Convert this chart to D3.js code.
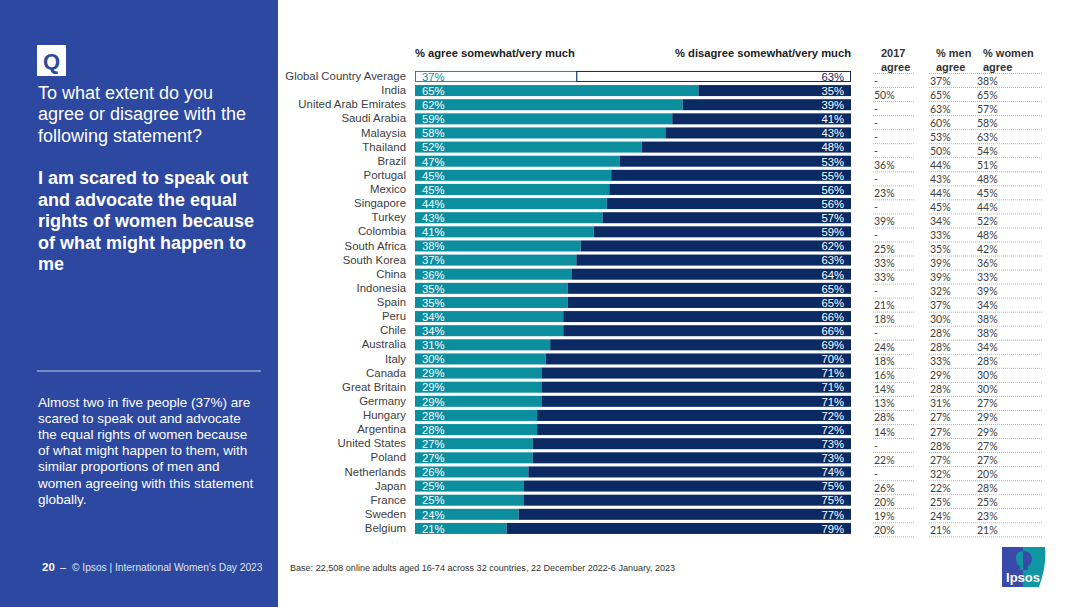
<!DOCTYPE html>
<html>
<head>
<meta charset="utf-8">
<script src="https://cdnjs.cloudflare.com/ajax/libs/d3/7.8.5/d3.min.js"></script>
<style>
  html, body { margin: 0; padding: 0; background: #fff; }
  svg { display: block; }
  text { font-family: "Liberation Sans", Arial, sans-serif; }
  .tbl { font-family: Lato, "Open Sans", sans-serif; font-size: 10.5px; fill: #404040; }
</style>
</head>
<body>
<svg id="chart" width="1080" height="607"></svg>
<script>
const countries = ['Global Country Average', 'India', 'United Arab Emirates', 'Saudi Arabia', 'Malaysia', 'Thailand', 'Brazil', 'Portugal', 'Mexico', 'Singapore', 'Turkey', 'Colombia', 'South Africa', 'South Korea', 'China', 'Indonesia', 'Spain', 'Peru', 'Chile', 'Australia', 'Italy', 'Canada', 'Great Britain', 'Germany', 'Hungary', 'Argentina', 'United States', 'Poland', 'Netherlands', 'Japan', 'France', 'Sweden', 'Belgium'];
const agree = [37, 65, 62, 59, 58, 52, 47, 45, 45, 44, 43, 41, 38, 37, 36, 35, 35, 34, 34, 31, 30, 29, 29, 29, 28, 28, 27, 27, 26, 25, 25, 24, 21];
const disagree = [63, 35, 39, 41, 43, 48, 53, 55, 56, 56, 57, 59, 62, 63, 64, 65, 65, 66, 66, 69, 70, 71, 71, 71, 72, 72, 73, 73, 74, 75, 75, 77, 79];
const agree2017 = ['-', '50%', '-', '-', '-', '-', '36%', '-', '23%', '-', '39%', '-', '25%', '33%', '33%', '-', '21%', '18%', '-', '24%', '18%', '16%', '14%', '13%', '28%', '14%', '-', '22%', '-', '26%', '20%', '19%', '20%'];
const men = [37, 65, 63, 60, 53, 50, 44, 43, 44, 45, 34, 33, 35, 39, 39, 32, 37, 30, 28, 28, 33, 29, 28, 31, 27, 27, 28, 27, 32, 22, 25, 24, 21];
const women = [38, 65, 57, 58, 63, 54, 51, 48, 45, 44, 52, 48, 42, 36, 33, 39, 34, 38, 38, 34, 28, 30, 30, 27, 29, 29, 27, 27, 20, 28, 25, 23, 21];

const questionLines = ['To what extent do you', 'agree or disagree with the', 'following statement?'];
const statementLines = ['I am scared to speak out', 'and advocate the equal', 'rights of women because', 'of what might happen to', 'me'];
const bodyLines = ['Almost two in five people (37%) are', 'scared to speak out and advocate', 'the equal rights of women because', 'of what might happen to them, with', 'similar proportions of men and', 'women agreeing with this statement', 'globally.'];

const teal = '#0b8f9f', navy = '#0b2a63', panel = '#2c48a0';
const svg = d3.select('#chart');

// left panel
svg.append('rect').attr('width', 278).attr('height', 607).attr('fill', panel);
svg.append('rect').attr('x', 37).attr('y', 45).attr('width', 29).attr('height', 31).attr('fill', '#fff');
svg.append('text').attr('x', 51.5).attr('y', 68.5).attr('text-anchor', 'middle')
    .attr('font-size', 22).attr('font-weight', 'bold').attr('fill', panel).text('Q');

function textBlock(lines, x, y0, step, size, weight) {
    svg.append('g').selectAll('text').data(lines).enter().append('text')
        .attr('x', x)
        .attr('y', (d, i) => y0 + i * step)
        .attr('font-size', size)
        .attr('font-weight', weight)
        .attr('fill', '#fff')
        .text(d => d);
}
textBlock(questionLines, 38, 99, 21.3, 18, 'normal');
textBlock(statementLines, 38, 184, 21.5, 18, 'bold');
textBlock(bodyLines, 38, 406.5, 16.2, 13.5, 'normal');
svg.append('line').attr('x1', 37).attr('x2', 261).attr('y1', 371).attr('y2', 371)
    .attr('stroke', '#c8d0e8').attr('stroke-width', 1);

svg.append('text').attr('x', 42).attr('y', 571).attr('font-size', 11.5).attr('font-weight', 'bold').attr('fill', '#fff').text('20');
svg.append('text').attr('x', 60).attr('y', 571).attr('font-size', 11).attr('fill', '#fff').text('–');
svg.append('text').attr('x', 72).attr('y', 571).attr('font-size', 10.2).attr('fill', '#dfe4f3').text('© Ipsos | International Women’s Day 2023');
svg.append('text').attr('x', 290).attr('y', 571).attr('font-size', 9.05).attr('fill', '#333').text('Base: 22,508 online adults aged 16-74 across 32 countries, 22 December 2022-6 January, 2023');

// stacked bars, expanded because rounded labels can add up to 101
const rows = countries.map((c, i) => ({country: c, agree: agree[i], disagree: disagree[i]}));
const series = d3.stack().keys(['agree', 'disagree']).offset(d3.stackOffsetExpand)(rows);

const x = d3.scaleLinear().domain([0, 1]).range([415, 851]);
const y = d3.scaleBand().domain(countries).range([69.4, 535.5]).paddingInner(0.22).paddingOuter(0.11);

const yAxis = d3.axisLeft(y).tickSize(0).tickPadding(0);
svg.append('g').attr('transform', 'translate(406,0)').call(yAxis)
    .call(g => g.select('.domain').remove())
    .call(g => g.selectAll('text').attr('font-size', 11.4).attr('fill', '#404040').attr('font-family', '"Liberation Sans", Arial, sans-serif'));

const isGlobal = p => p.d.data.country === countries[0];
const barGroups = svg.selectAll('.series').data(series).enter().append('g').attr('class', 'series');
barGroups.selectAll('rect').data(s => s.map(d => ({key: s.key, d: d}))).enter().append('rect')
    .attr('x', p => x(p.d[0]) + (isGlobal(p) ? 0.5 : 0))
    .attr('y', p => y(p.d.data.country) + (isGlobal(p) ? 0.5 : 0))
    // the outlined top bar shares one divider line, so only the last segment is pulled in
    .attr('width', p => x(p.d[1]) - x(p.d[0]) - (isGlobal(p) && p.key === 'disagree' ? 1 : 0))
    .attr('height', p => y.bandwidth() - (isGlobal(p) ? 1 : 0))
    .attr('fill', p => isGlobal(p) ? '#fff' : (p.key === 'agree' ? teal : navy))
    .attr('stroke', p => isGlobal(p) ? (p.key === 'agree' ? teal : navy) : 'none');

svg.append('g').selectAll('text').data(rows).enter().append('text')
    .attr('x', x(0) + 7)
    .attr('y', d => y(d.country) + y.bandwidth() / 2 + 4.3)
    .attr('font-size', 11.3)
    .attr('fill', (d, i) => i === 0 ? teal : '#fff')
    .text(d => d.agree + '%');
svg.append('g').selectAll('text').data(rows).enter().append('text')
    .attr('x', x(1) - 7)
    .attr('y', d => y(d.country) + y.bandwidth() / 2 + 4.3)
    .attr('text-anchor', 'end')
    .attr('font-size', 11.3)
    .attr('fill', (d, i) => i === 0 ? navy : '#fff')
    .text(d => d.disagree + '%');

svg.append('text').attr('x', 415).attr('y', 57).attr('font-size', 11.2).attr('font-weight', 'bold').attr('fill', '#222').text('% agree somewhat/very much');
svg.append('text').attr('x', 851).attr('y', 57).attr('text-anchor', 'end').attr('font-size', 11.2).attr('font-weight', 'bold').attr('fill', '#222').text('% disagree somewhat/very much');

// table on the right
const rowY = d3.scaleBand().domain(countries).range([73.5, 536.8]);
const ruleYs = [rowY.range()[0]].concat(countries.map(c => rowY(c) + rowY.bandwidth()));
const rules = svg.append('g').attr('stroke', '#9a9a9a').attr('stroke-width', 0.7).attr('stroke-dasharray', '1 1');
[[873, 915], [929, 1043]].forEach(span => {
    rules.append('g').selectAll('line').data(ruleYs).enter().append('line')
        .attr('x1', span[0]).attr('x2', span[1])
        .attr('y1', d => d).attr('y2', d => d);
});

const columns = [
    {x: 874, values: agree2017},
    {x: 930, values: men.map(v => v + '%')},
    {x: 977, values: women.map(v => v + '%')}
];
columns.forEach(col => {
    svg.append('g').selectAll('text').data(col.values).enter().append('text')
        .attr('class', 'tbl')
        .attr('x', col.x)
        .attr('y', (d, i) => rowY(countries[i]) + rowY.bandwidth() / 2 + 4)
        .text(d => d);
});

const headers = [
    {x: 881, lines: ['2017', 'agree']},
    {x: 936, lines: ['% men', 'agree']},
    {x: 983, lines: ['% women', 'agree']}
];
headers.forEach(h => {
    h.lines.forEach((t, i) => {
        svg.append('text').attr('x', h.x).attr('y', 57 + i * 14)
            .attr('font-size', 11).attr('font-weight', 'bold').attr('fill', '#333').text(t);
    });
});

// Ipsos logo
const logo = svg.append('g').attr('transform', 'translate(1002,547)');
logo.append('path').attr('d', 'M0,0 H43 Q45,18 37,40 H0 Z').attr('fill', '#0f97a3');
logo.append('path').attr('d', 'M0,0 H21 V40 H0 Z').attr('fill', '#3a4aa8');
logo.append('path').attr('d', 'M21,4 Q15,4 14,10 Q14,17 18,19 V23 H21 Z').attr('fill', '#0f97a3');
logo.append('path').attr('d', 'M21,4 Q29,4 30,11 Q30,17 26,19 V23 H21 Z').attr('fill', '#3a4aa8');
logo.append('text').attr('x', 21).attr('y', 35).attr('text-anchor', 'middle')
    .attr('font-family', 'Lato, sans-serif')
    .attr('font-size', 13).attr('fill', '#fff').attr('font-weight', 'bold').text('Ipsos');
</script>
</body>
</html>
